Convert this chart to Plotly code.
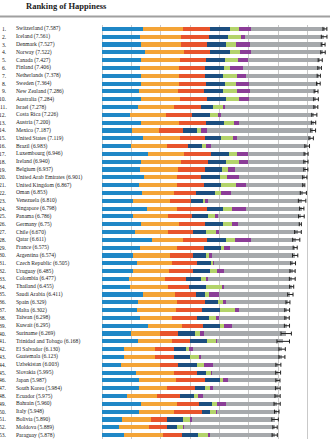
import plotly.graph_objects as go

countries = ["Switzerland", "Iceland", "Denmark", "Norway", "Canada", "Finland", "Netherlands",
             "Sweden", "New Zealand", "Australia", "Israel", "Costa Rica", "Austria", "Mexico",
             "United States", "Brazil", "Luxembourg", "Ireland", "Belgium", "United Arab Emirates",
             "United Kingdom", "Oman", "Venezuela", "Singapore", "Panama", "Germany", "Chile",
             "Qatar", "France", "Argentina", "Czech Republic", "Uruguay", "Colombia", "Thailand",
             "Saudi Arabia", "Spain", "Malta", "Taiwan", "Kuwait", "Suriname", "Trinidad and Tobago",
             "El Salvador", "Guatemala", "Uzbekistan", "Slovakia", "Japan", "South Korea", "Ecuador",
             "Bahrain", "Italy", "Bolivia", "Moldova", "Paraguay"]

score_text = ["7.587", "7.561", "7.527", "7.522", "7.427", "7.406", "7.378", "7.364", "7.286",
              "7.284", "7.278", "7.226", "7.200", "7.187", "7.119", "6.983", "6.946", "6.940",
              "6.937", "6.901", "6.867", "6.853", "6.810", "6.798", "6.786", "6.75", "6.670",
              "6.611", "6.575", "6.574", "6.505", "6.485", "6.477", "6.455", "6.411", "6.329",
              "6.302", "6.298", "6.295", "6.269", "6.168", "6.130", "6.123", "6.003", "5.995",
              "5.987", "5.984", "5.975", "5.960", "5.948", "5.890", "5.889", "5.878"]

std_error = [0.03411, 0.04884, 0.03328, 0.03880, 0.03553, 0.03140, 0.02799, 0.03157, 0.03371,
             0.04083, 0.03470, 0.04454, 0.03751, 0.04176, 0.03839, 0.04076, 0.03499, 0.03676,
             0.03595, 0.03729, 0.01866, 0.05335, 0.06476, 0.03780, 0.04910, 0.01848, 0.05800,
             0.06257, 0.03512, 0.04612, 0.04168, 0.04539, 0.05051, 0.03557, 0.04633, 0.03468,
             0.04206, 0.03868, 0.04456, 0.09014, 0.10895, 0.05618, 0.05224, 0.04361, 0.04267,
             0.03581, 0.04098, 0.04528, 0.05412, 0.03914, 0.05642, 0.03799, 0.04563]

economy = [1.39651, 1.30232, 1.32548, 1.45900, 1.32629, 1.29025, 1.32944, 1.33171, 1.25018,
           1.33358, 1.22857, 0.95578, 1.33723, 1.02054, 1.39451, 0.98124, 1.56391, 1.33596,
           1.30782, 1.42727, 1.26637, 1.36011, 1.04424, 1.52186, 1.06353, 1.32792, 1.10715,
           1.69042, 1.27778, 1.05351, 1.17898, 1.06166, 0.91861, 0.96690, 1.39541, 1.23011,
           1.20740, 1.29098, 1.55422, 0.99534, 1.21183, 0.76454, 0.74553, 0.63244, 1.16891,
           1.27074, 1.24461, 0.86402, 1.32376, 1.25114, 0.68133, 0.59448, 0.75985]

family = [1.34951, 1.40223, 1.36058, 1.33095, 1.32261, 1.31826, 1.28017, 1.28907, 1.31967,
          1.30923, 1.22393, 1.23788, 1.29704, 0.91451, 1.24711, 1.23287, 1.21963, 1.36948,
          1.28566, 1.12575, 1.28548, 1.08182, 1.25596, 1.02000, 1.19850, 1.29937, 1.12447,
          1.07860, 1.26038, 1.24823, 1.20643, 1.20890, 1.24018, 1.26504, 1.08393, 1.31379,
          1.30203, 1.07617, 1.16594, 0.97200, 1.18354, 1.02507, 1.04356, 1.34043, 1.26999,
          1.25712, 0.95774, 0.99903, 1.21624, 1.19777, 0.97841, 1.01528, 1.30477]

health = [0.94143, 0.94784, 0.87464, 0.88521, 0.90563, 0.88911, 0.89284, 0.91087, 0.90837,
          0.93156, 0.91387, 0.86027, 0.89042, 0.81444, 0.86179, 0.69702, 0.91894, 0.89533,
          0.89667, 0.80925, 0.90943, 0.76276, 0.72052, 1.02525, 0.79661, 0.89186, 0.85857,
          0.79733, 0.94579, 0.78723, 0.84483, 0.81160, 0.69077, 0.73850, 0.72025, 0.95562,
          0.88721, 0.87530, 0.72492, 0.60820, 0.61483, 0.67737, 0.64425, 0.59772, 0.78902,
          0.99111, 0.96538, 0.79075, 0.74716, 0.95446, 0.53920, 0.61826, 0.66098]

freedom = [0.66557, 0.62877, 0.64938, 0.66973, 0.63297, 0.64169, 0.61576, 0.65980, 0.63938,
           0.65124, 0.41319, 0.63376, 0.62433, 0.48181, 0.54604, 0.49049, 0.61583, 0.61777,
           0.58450, 0.64157, 0.59625, 0.63274, 0.42908, 0.54252, 0.54210, 0.61477, 0.44132,
           0.64040, 0.55011, 0.44974, 0.46364, 0.60362, 0.53466, 0.55664, 0.31048, 0.45951,
           0.60365, 0.39740, 0.55499, 0.59657, 0.55884, 0.40350, 0.57733, 0.65821, 0.31751,
           0.49615, 0.33208, 0.48574, 0.45492, 0.26236, 0.57414, 0.32818, 0.53899]

generosity = [0.29678, 0.43630, 0.34139, 0.34699, 0.45811, 0.23351, 0.47610, 0.36262, 0.47501,
              0.43562, 0.33172, 0.25497, 0.33088, 0.14074, 0.40105, 0.14574, 0.28034, 0.45901,
              0.22250, 0.26428, 0.51912, 0.21542, 0.05841, 0.31105, 0.24434, 0.28214, 0.33363,
              0.32573, 0.12332, 0.11451, 0.10686, 0.23240, 0.18401, 0.57630, 0.13706, 0.18227,
              0.51752, 0.25376, 0.16228, 0.16991, 0.31844, 0.10692, 0.27489, 0.22837, 0.16893,
              0.10705, 0.18557, 0.11541, 0.17362, 0.22823, 0.20536, 0.20951, 0.34200]

trust = [0.41978, 0.14145, 0.48357, 0.36503, 0.32957, 0.41372, 0.31814, 0.43844, 0.42922,
         0.35637, 0.07785, 0.10583, 0.18676, 0.21312, 0.15890, 0.17521, 0.37798, 0.28703,
         0.22540, 0.38583, 0.32067, 0.32524, 0.11069, 0.49210, 0.09270, 0.21843, 0.12869,
         0.52208, 0.20646, 0.08484, 0.02652, 0.24558, 0.05120, 0.03187, 0.32524, 0.06398,
         0.13586, 0.08129, 0.25609, 0.13633, 0.01140, 0.11776, 0.09472, 0.30826, 0.03431,
         0.18060, 0.07857, 0.17914, 0.30600, 0.02901, 0.08800, 0.01615, 0.08242]

dystopia = [2.51738, 2.70201, 2.49204, 2.46531, 2.45176, 2.61955, 2.46570, 2.37119, 2.26425,
            2.26646, 3.08854, 3.17728, 2.53320, 3.60214, 2.51011, 3.26001, 1.96961, 1.97570,
            2.41484, 2.24743, 1.96994, 2.47489, 3.19131, 1.88501, 2.84848, 2.11569, 2.67585,
            1.55674, 2.21126, 2.83600, 2.67782, 2.32142, 2.85737, 2.31945, 2.43872, 2.12367,
            1.64880, 2.32323, 1.87634, 2.79094, 2.26882, 3.03500, 2.74255, 2.23741, 2.24639,
            1.68435, 2.21978, 2.54048, 1.73797, 2.02518, 2.82334, 3.10712, 2.18896]

x_ticks = [0, 1, 2, 3, 4, 5, 6, 7]

ranks = list(range(1, len(countries) + 1))
scores = [float(s) for s in score_text]
ci95 = [1.96 * e for e in std_error]

components = [
    ("GDP per capita", economy, "#1f87c6"),
    ("Social support", family, "#f4a437"),
    ("Healthy life expectancy", health, "#e8542c"),
    ("Freedom", freedom, "#1c4e7f"),
    ("Generosity", generosity, "#b3d36b"),
    ("Perceptions of corruption", trust, "#8b3d97"),
    ("Dystopia + residual", dystopia, "#a6a9ac"),
]

fig = go.Figure()
for name, vals, color in components:
    fig.add_trace(go.Bar(
        x=vals, y=ranks, orientation="h", name=name,
        marker=dict(color=color, line=dict(width=0)),
        hoverinfo="skip",
    ))

# 95% confidence interval whiskers at each country's score
fig.add_trace(go.Scatter(
    x=scores, y=ranks, mode="markers",
    marker=dict(size=1, color="rgba(0,0,0,0)"),
    error_x=dict(type="data", array=ci95, visible=True,
                 color="#222222", thickness=1, width=2),
    hoverinfo="skip", showlegend=False,
))

W, H = 330, 440
ML, MR, MT, MB = 102, 0, 25, 1
PW, PH = W - ML - MR, H - MT - MB


def px_x(px):
    return (px - ML) / PW


def px_y(py):
    return (H - MB - py) / PH


label_font = dict(family="Liberation Serif, Times New Roman, serif", size=5.6, color="#222222")
annotations = []
for r, c, st in zip(ranks, countries, score_text):
    annotations.append(dict(
        x=px_x(8.5), y=r, xref="paper", yref="y", text=f"{r}.",
        showarrow=False, xanchor="right", yanchor="middle", font=label_font,
    ))
    annotations.append(dict(
        x=px_x(14), y=r, xref="paper", yref="y", text=f"{c} ({st})",
        showarrow=False, xanchor="left", yanchor="middle", font=label_font,
    ))

annotations.append(dict(
    x=px_x(66), y=px_y(6), xref="paper", yref="paper", text="<b>Ranking of Happiness</b>",
    showarrow=False, xanchor="center", yanchor="middle",
    font=dict(family="Liberation Serif, Times New Roman, serif", size=8.5, color="#222222"),
))

fig.update_layout(
    width=W, height=H,
    margin=dict(l=ML, r=MR, t=MT, b=MB, pad=0),
    paper_bgcolor="white", plot_bgcolor="white",
    barmode="stack", bargap=0.47,
    showlegend=False,
    annotations=annotations,
    shapes=[dict(type="line", xref="paper", yref="paper",
                 x0=px_x(0), x1=1, y0=px_y(16.5), y1=px_y(16.5),
                 line=dict(color="#a0a0a0", width=2))],
    xaxis=dict(range=[0, 7.76], tickvals=x_ticks, showticklabels=False,
               showgrid=True, gridcolor="#c9c9c9", gridwidth=1,
               zeroline=True, zerolinecolor="#c9c9c9", zerolinewidth=1,
               showline=False, fixedrange=True),
    yaxis=dict(range=[len(countries) + 0.5, 0.5], showticklabels=False,
               showgrid=False, zeroline=False, showline=False, fixedrange=True),
)

fig.write_html("out.html")
